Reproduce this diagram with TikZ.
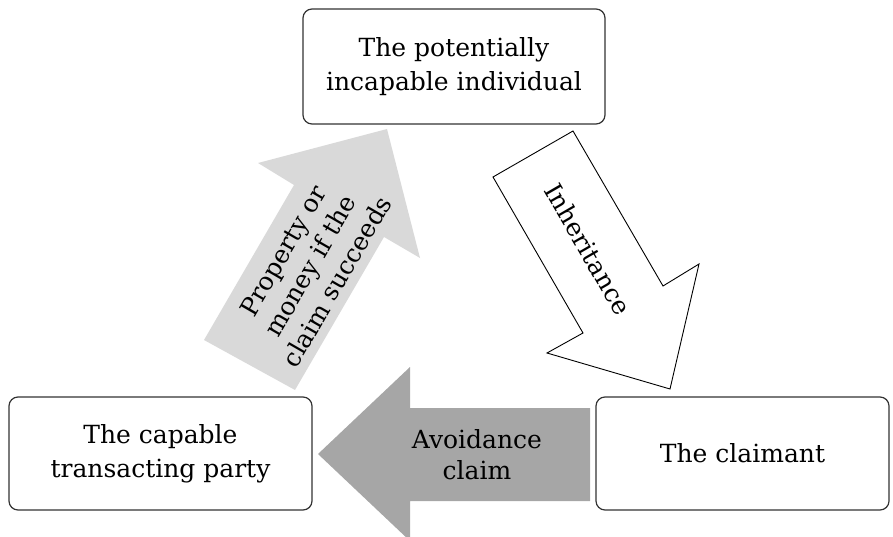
\documentclass[tikz,border=0pt]{standalone}
\usepackage{fontspec}
\setmainfont{DejaVu Serif}
\definecolor{lightgrey}{HTML}{D9D9D9}
\definecolor{midgrey}{HTML}{A6A6A6}

\begin{document}
\begin{tikzpicture}[x=1pt,y=-1pt,
  box/.style={draw=black!80,line width=1.2pt,rounded corners=9pt,align=center,inner sep=0pt,font=\fontsize{25}{34}\selectfont},
  lbl/.style={align=center,inner sep=0pt,font=\fontsize{25}{31}\selectfont}]
\useasboundingbox (0,0) rectangle (893,537);
% the three parties
\node[box,minimum width=302pt,minimum height=115pt] (indiv) at (454,66.5) {The potentially\\incapable individual};
\node[box,minimum width=303pt,minimum height=113pt] (party) at (160.5,453.5) {The capable\\transacting party};
\node[box,minimum width=293pt,minimum height=113pt] (claimant) at (742.5,453.5) {The claimant};
% block arrows
\fill[lightgrey] (204,340) -- (294,185) -- (258,163) -- (387,129) -- (420,258) -- (384,237) -- (295,390) -- cycle;
\node[lbl,rotate=60] (money) at (310,266) {Property or\\money if the\\claim succeeds};
\draw[fill=white,line width=0.9pt] (493,177) -- (583,333) -- (547,353) -- (670,389) -- (699,264) -- (663,286) -- (573,131) -- cycle;
\node[lbl,rotate=-60] (inherit) at (588,249) {Inheritance};
\fill[midgrey] (590,408) -- (410,408) -- (410,367) -- (318,454) -- (410,541) -- (410,501) -- (590,501) -- cycle;
\node[lbl] (avoid) at (477,455) {Avoidance\\claim};
\end{tikzpicture}
\end{document}
